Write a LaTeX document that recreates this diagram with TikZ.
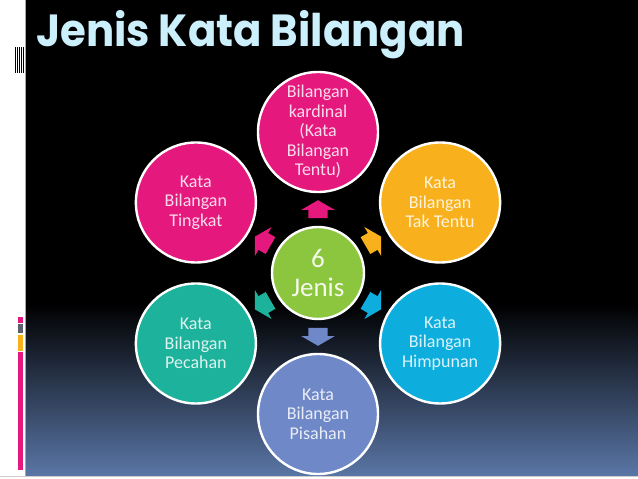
\documentclass[tikz,border=0pt]{standalone}
\usepackage{fontspec}
\setmainfont{Carlito}
\newfontfamily\titlefont{Poppins}
\usepackage{graphicx}
\usepackage{tikz}
\usetikzlibrary{shapes.arrows, positioning, calc}
\definecolor{jkpink}{HTML}{E5187D}
\definecolor{jkorange}{HTML}{F8B11C}
\definecolor{jkblue}{HTML}{0DAEDD}
\definecolor{jkperi}{HTML}{6F88C7}
\definecolor{jkteal}{HTML}{1CB29B}
\definecolor{jkgreen}{HTML}{8CC63F}
\definecolor{jknavy}{HTML}{5A76A6}
\definecolor{jktitle}{HTML}{CBEFFB}
\definecolor{jkgray}{HTML}{5B5F6C}

\begin{document}
\begin{tikzpicture}[x=1pt,y=1pt,
		bubble/.style={circle, draw=white, line width=2.4pt, minimum size=120pt, inner sep=0pt, align=center, font=\fontsize{18}{19.5}\selectfont},
		pointer/.style={single arrow, minimum height=18pt, inner xsep=0pt, inner ysep=9.5pt, single arrow head extend=7pt, single arrow tip angle=120}]
				\useasboundingbox (0,0) rectangle (638,479);
				\fill[white] (0,0) rectangle (638,479);
				\fill[black] (26,3) rectangle (638,479);
				\shade[top color=black, bottom color=jknavy] (26,3) rectangle (638,175);
				\draw[gray!70, line width=0.8pt] (25.5,3) -- (25.5,479);
				\draw[gray!40, line width=0.8pt] (0,3) -- (638,3);
				\foreach \x in {15,17,19,21,23}
					\draw[black, line width=0.8pt] (\x,406) -- (\x,432);
				\fill[jkpink] (18,156) rectangle (23,162);
				\fill[jkgray] (18,146) rectangle (23,155);
				\fill[jkorange] (18,128) rectangle (23,144);
				\fill[jkpink] (18,9) rectangle (23,127);
				\node[anchor=base west, inner sep=0pt, text=jktitle, font=\titlefont\bfseries\fontsize{45}{45}\selectfont] (judul) at (36,432) {\scalebox{0.93}[1]{Jenis Kata Bilangan}};
				\node[bubble, fill=jkgreen, text=white!90!jkgreen, font=\fontsize{27}{29}\selectfont, minimum size=92pt] (jenis) at (318,206) {6\\Jenis};
				\foreach \n/\a/\c/\t in {kardinal/90/jkpink/{Bilangan\\kardinal\\(Kata\\Bilangan\\Tentu)},
					taktentu/30/jkorange/{Kata\\Bilangan\\Tak Tentu},
					himpunan/-30/jkblue/{Kata\\Bilangan\\Himpunan},
					pisahan/-90/jkperi/{Kata\\Bilangan\\Pisahan},
					pecahan/-150/jkteal/{Kata\\Bilangan\\Pecahan},
					tingkat/150/jkpink/{Kata\\Bilangan\\Tingkat}}{
					\node[bubble, fill=\c, text=white!85!\c] (\n) at ($(jenis)+(\a:141)$) {\t};
					\node[pointer, fill=\c, rotate=\a] (p-\n) at ($(jenis)!61pt!(\n)$) {};
				}
			\end{tikzpicture}
\end{document}
